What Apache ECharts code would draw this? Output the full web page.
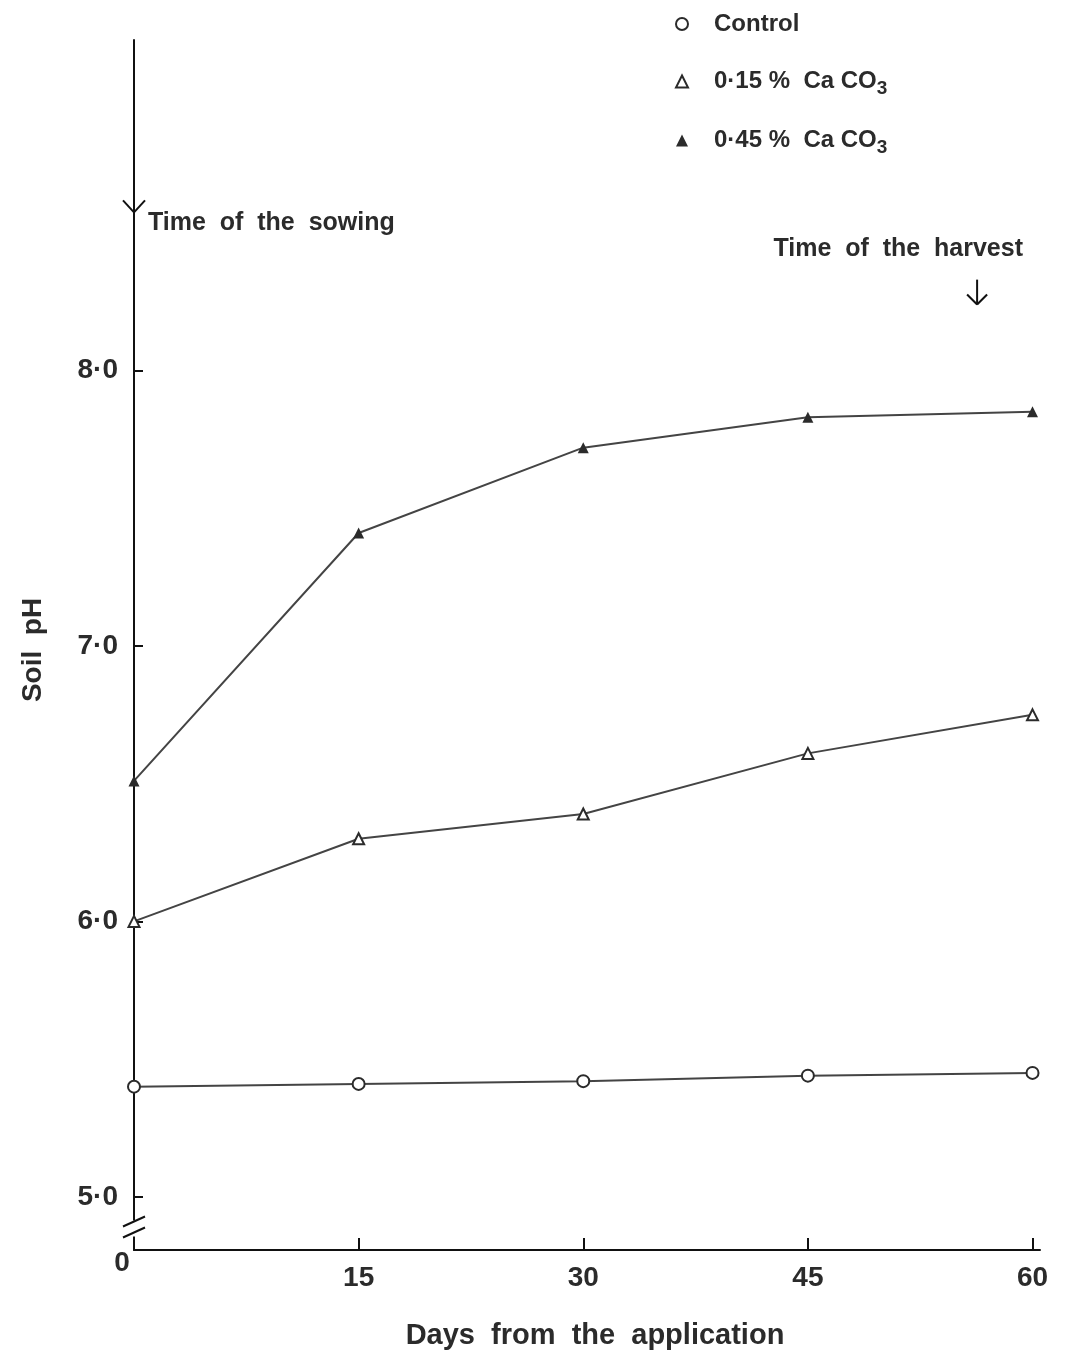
<!DOCTYPE html>
<html>
<head>
<meta charset="utf-8">
<script src="https://cdn.jsdelivr.net/npm/echarts@6/dist/echarts.min.js"></script>
<style>
  html, body { margin: 0; padding: 0; background: #fff; }
  #chart { width: 1068px; height: 1357px; }
</style>
</head>
<body>
<div id="chart"></div>
<script>
// days after lime application
var days = [0, 15, 30, 45, 60];
var seriesNames = ['Control', '0·15 %  Ca CO3', '0·45 %  Ca CO3'];
var controlPH = [5.40, 5.41, 5.42, 5.44, 5.45];
var lowLimePH = [6.00, 6.30, 6.39, 6.61, 6.75];
var highLimePH = [6.51, 7.41, 7.72, 7.83, 7.85];
var yTicks = [5, 6, 7, 8];
var xTicks = [15, 30, 45, 60];

var INK = '#2b2b2b';
var FONT = 'Liberation Sans';

function pairs(ys) {
    return days.map(function (d, i) { return [d, ys[i]]; });
}

var chart = echarts.init(document.getElementById('chart'));

function lineSeries(name, ys, symbol, size) {
    return {
        name: name,
        type: 'line',
        data: pairs(ys),
        symbol: symbol,
        symbolSize: size,
        showSymbol: true,
        lineStyle: { color: '#444', width: 2 },
        itemStyle: { color: '#2b2b2b', borderWidth: 1.6 },
        emphasis: { disabled: true },
        animation: false
    };
}

var option = {
    backgroundColor: '#fff',
    animation: false,
    grid: { left: 134, top: 40, width: 906, height: 1210, containLabel: false },
    legend: {
        orient: 'vertical',
        left: 670,
        top: 4,
        itemWidth: 12,
        itemHeight: 12,
        itemGap: 26,
        selectedMode: false,
        data: [
            { name: seriesNames[0], icon: 'emptyCircle' },
            { name: seriesNames[1], icon: 'emptyTriangle' },
            { name: seriesNames[2], icon: 'triangle' }
        ],
        formatter: function (name) {
            return name.replace('CO3', 'CO{sub|3}');
        },
        textStyle: {
            fontFamily: FONT, fontWeight: 'bold', fontSize: 24, color: INK, lineHeight: 30,
            padding: [0, 0, 0, 21],
            rich: {
                sub: { fontFamily: FONT, fontWeight: 'bold', fontSize: 19, color: INK, lineHeight: 30, padding: [14, 0, 0, 0] }
            }
        }
    },
    xAxis: {
        type: 'value',
        min: 0,
        max: 60.5,
        splitLine: { show: false },
        axisLine: { onZero: false, lineStyle: { color: '#111', width: 2 } },
        axisTick: { inside: true, length: 12, customValues: xTicks, lineStyle: { color: '#111', width: 2 } },
        axisLabel: {
            customValues: xTicks,
            margin: 14,
            fontFamily: FONT, fontWeight: 'bold', fontSize: 28, color: INK
        }
    },
    yAxis: {
        type: 'value',
        min: 4.807,
        max: 9.2,
        splitLine: { show: false },
        axisLine: { onZero: false, lineStyle: { color: '#111', width: 2 } },
        axisTick: { inside: true, length: 9, customValues: yTicks, lineStyle: { color: '#111', width: 2 } },
        axisLabel: {
            customValues: yTicks,
            margin: 16,
            fontFamily: FONT, fontWeight: 'bold', fontSize: 28, color: INK,
            formatter: function (v) { return v.toFixed(1).replace('.', '·'); }
        }
    },
    series: [
        lineSeries(seriesNames[0], controlPH, 'emptyCircle', 12),
        lineSeries(seriesNames[1], lowLimePH, 'emptyTriangle', 11),
        lineSeries(seriesNames[2], highLimePH, 'triangle', 11)
    ]
};
chart.setOption(option);

// annotations: arrows, axis break, titles
var px = function (x, y) { return chart.convertToPixel({ gridIndex: 0 }, [x, y]); };
var origin = px(0, 4.807);
var sow = px(0, 8.574);
var harvTop = px(56.3, 8.33);
var harvTip = px(56.3, 8.24);
var brk = px(0, 4.885);
var stroke = { stroke: '#111', lineWidth: 2 };

function seg(x1, y1, x2, y2) {
    return { type: 'line', shape: { x1: x1, y1: y1, x2: x2, y2: y2 }, style: stroke, z: 10 };
}
function label(text, x, y, size, align, rot) {
    return {
        type: 'text', x: x, y: y, rotation: rot || 0, z: 10,
        style: { text: text, fontFamily: FONT, fontWeight: 'bold', fontSize: size, fill: INK, align: align, verticalAlign: 'middle' }
    };
}

chart.setOption({
    graphic: [
        // sowing arrow on the y axis
        seg(sow[0] - 11, sow[1] - 12, sow[0], sow[1]),
        seg(sow[0] + 11, sow[1] - 12, sow[0], sow[1]),
        label('Time  of  the  sowing', 148, 223, 25, 'left'),
        // harvest arrow
        seg(harvTop[0], harvTop[1], harvTip[0], harvTip[1]),
        seg(harvTip[0] - 10, harvTip[1] - 10, harvTip[0], harvTip[1]),
        seg(harvTip[0] + 10, harvTip[1] - 10, harvTip[0], harvTip[1]),
        label('Time  of  the  harvest', 1023, 249, 25, 'right'),
        // axis break
        { type: 'rect', shape: { x: brk[0] - 4, y: brk[1] - 8, width: 8, height: 16 }, style: { fill: '#fff' }, z: 9 },
        seg(brk[0] - 11, brk[1] - 2, brk[0] + 11, brk[1] - 12),
        seg(brk[0] - 11, brk[1] + 9, brk[0] + 11, brk[1] - 1),
        // origin label and axis titles
        label('0', origin[0] - 12, origin[1] + 13, 28, 'center'),
        label('Days  from  the  application', 595, 1336, 29, 'center'),
        label('Soil  pH', 33, 650, 28, 'center', Math.PI / 2)
    ]
});
</script>
</body>
</html>
